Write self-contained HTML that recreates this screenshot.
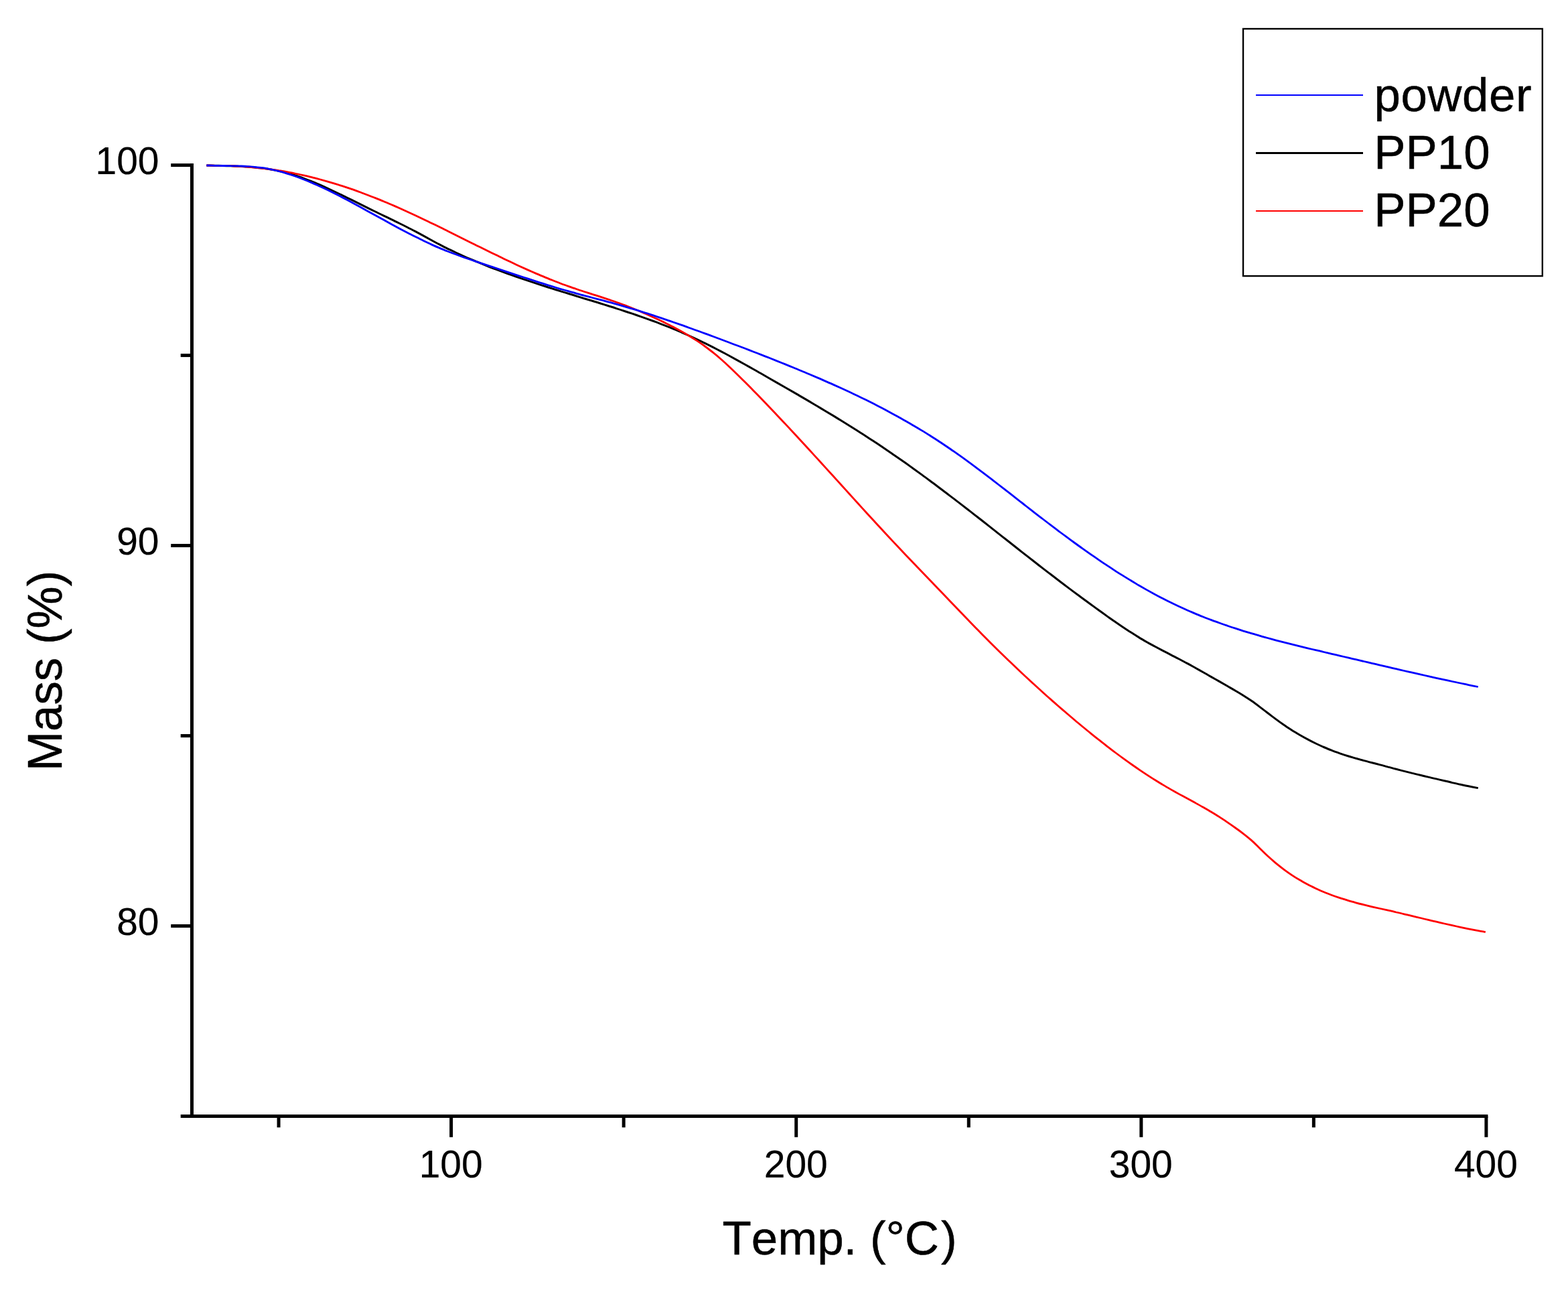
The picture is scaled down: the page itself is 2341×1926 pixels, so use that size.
<!DOCTYPE html>
<html lang="en"><head><meta charset="utf-8"><title>TGA curves</title>
<style>
html,body{margin:0;padding:0;background:#fff;}
body{width:2341px;height:1926px;overflow:hidden;}
svg{display:block;}
text{font-family:"Liberation Sans",sans-serif;fill:#000;font-kerning:none;stroke:#000;stroke-width:0.5px;stroke-linejoin:round;}
.tk{font-size:58.33px;stroke-width:0.2px;}
.tt{font-size:70.83px;}
.lg{font-size:70.83px;}
</style></head><body>
<svg width="2341" height="1926" viewBox="0 0 2341 1926">
<rect x="0" y="0" width="2341" height="1926" fill="#fff"/>

<g fill="none" stroke-width="2.8" stroke-linejoin="round" stroke-linecap="butt">
<path stroke="#000" stroke-width="3.0" d="M308.4 247.0C310.4 247.0 316.4 247.2 320.4 247.2C324.4 247.3 328.4 247.4 332.4 247.5C336.4 247.6 340.4 247.7 344.4 247.8C348.4 247.9 352.4 248.1 356.4 248.3C360.4 248.4 364.4 248.7 368.4 248.9C372.4 249.2 376.4 249.5 380.4 249.9C384.4 250.3 388.4 250.7 392.4 251.2C396.4 251.8 400.4 252.4 404.4 253.0C408.4 253.7 412.4 254.5 416.4 255.4C420.4 256.2 424.4 257.2 428.4 258.3C432.4 259.4 436.4 260.6 440.4 261.8C444.4 263.1 448.4 264.5 452.4 265.9C456.4 267.4 460.4 268.9 464.4 270.5C468.4 272.1 472.4 273.8 476.4 275.5C480.4 277.2 484.4 279.0 488.4 280.8C492.4 282.7 496.4 284.6 500.4 286.5C504.4 288.4 508.4 290.3 512.4 292.3C516.4 294.2 520.4 296.2 524.4 298.2C528.4 300.2 532.4 302.2 536.4 304.2C540.4 306.2 544.4 308.2 548.4 310.2C552.4 312.1 556.4 314.1 560.4 316.0C564.4 318.0 568.4 319.9 572.4 321.8C576.4 323.7 580.4 325.7 584.4 327.6C588.4 329.5 592.4 331.5 596.4 333.5C600.4 335.4 604.4 337.4 608.4 339.5C612.4 341.5 616.4 343.6 620.4 345.7C624.4 347.8 628.4 350.0 632.4 352.1C636.4 354.3 640.4 356.5 644.4 358.7C648.4 360.9 652.4 363.0 656.4 365.1C660.4 367.2 664.4 369.3 668.4 371.3C672.4 373.2 676.4 375.2 680.4 377.0C684.4 378.9 688.4 380.7 692.4 382.5C696.4 384.3 700.4 386.0 704.4 387.7C708.4 389.4 712.4 391.1 716.4 392.7C720.4 394.3 724.4 395.9 728.4 397.5C732.4 399.1 736.4 400.6 740.4 402.1C744.4 403.6 748.4 405.1 752.4 406.6C756.4 408.0 760.4 409.5 764.4 410.9C768.4 412.3 772.4 413.7 776.4 415.1C780.4 416.5 784.4 417.8 788.4 419.2C792.4 420.5 796.4 421.8 800.4 423.1C804.4 424.5 808.4 425.8 812.4 427.0C816.4 428.3 820.4 429.6 824.4 430.9C828.4 432.1 832.4 433.4 836.4 434.6C840.4 435.9 844.4 437.1 848.4 438.3C852.4 439.6 856.4 440.8 860.4 442.0C864.4 443.2 868.4 444.5 872.4 445.7C876.4 446.9 880.4 448.1 884.4 449.3C888.4 450.6 892.4 451.8 896.4 453.0C900.4 454.3 904.4 455.5 908.4 456.8C912.4 458.0 916.4 459.3 920.4 460.6C924.4 461.8 928.4 463.1 932.4 464.5C936.4 465.8 940.4 467.1 944.4 468.4C948.4 469.8 952.4 471.2 956.4 472.6C960.4 474.0 964.4 475.4 968.4 476.8C972.4 478.3 976.4 479.7 980.4 481.2C984.4 482.8 988.4 484.3 992.4 485.9C996.4 487.4 1000.4 489.0 1004.4 490.7C1008.4 492.3 1012.4 494.0 1016.4 495.7C1020.4 497.5 1024.4 499.2 1028.4 501.0C1032.4 502.8 1036.4 504.7 1040.4 506.6C1044.4 508.5 1048.4 510.4 1052.4 512.4C1056.4 514.4 1060.4 516.4 1064.4 518.4C1068.4 520.5 1072.4 522.5 1076.4 524.6C1080.4 526.7 1084.4 528.9 1088.4 531.0C1092.4 533.2 1096.4 535.4 1100.4 537.6C1104.4 539.8 1108.4 542.0 1112.4 544.2C1116.4 546.5 1120.4 548.7 1124.4 551.0C1128.4 553.2 1132.4 555.5 1136.4 557.8C1140.4 560.1 1144.4 562.4 1148.4 564.7C1152.4 567.0 1156.4 569.3 1160.4 571.6C1164.4 573.9 1168.4 576.2 1172.4 578.5C1176.4 580.8 1180.4 583.1 1184.4 585.4C1188.4 587.7 1192.4 590.0 1196.4 592.4C1200.4 594.7 1204.4 597.1 1208.4 599.4C1212.4 601.8 1216.4 604.1 1220.4 606.5C1224.4 608.9 1228.4 611.3 1232.4 613.7C1236.4 616.1 1240.4 618.5 1244.4 620.9C1248.4 623.4 1252.4 625.8 1256.4 628.3C1260.4 630.8 1264.4 633.2 1268.4 635.7C1272.4 638.2 1276.4 640.8 1280.4 643.3C1284.4 645.8 1288.4 648.4 1292.4 651.0C1296.4 653.6 1300.4 656.2 1304.4 658.8C1308.4 661.4 1312.4 664.1 1316.4 666.8C1320.4 669.5 1324.4 672.2 1328.4 674.9C1332.4 677.6 1336.4 680.4 1340.4 683.2C1344.4 686.0 1348.4 688.8 1352.4 691.6C1356.4 694.5 1360.4 697.3 1364.4 700.2C1368.4 703.1 1372.4 706.0 1376.4 708.9C1380.4 711.8 1384.4 714.8 1388.4 717.8C1392.4 720.7 1396.4 723.7 1400.4 726.7C1404.4 729.7 1408.4 732.7 1412.4 735.8C1416.4 738.8 1420.4 741.9 1424.4 744.9C1428.4 748.0 1432.4 751.1 1436.4 754.1C1440.4 757.2 1444.4 760.3 1448.4 763.4C1452.4 766.5 1456.4 769.7 1460.4 772.8C1464.4 775.9 1468.4 779.0 1472.4 782.2C1476.4 785.3 1480.4 788.5 1484.4 791.6C1488.4 794.8 1492.4 797.9 1496.4 801.1C1500.4 804.2 1504.4 807.4 1508.4 810.5C1512.4 813.7 1516.4 816.8 1520.4 820.0C1524.4 823.1 1528.4 826.2 1532.4 829.4C1536.4 832.5 1540.4 835.6 1544.4 838.7C1548.4 841.9 1552.4 845.0 1556.4 848.1C1560.4 851.2 1564.4 854.3 1568.4 857.3C1572.4 860.4 1576.4 863.5 1580.4 866.5C1584.4 869.6 1588.4 872.6 1592.4 875.6C1596.4 878.6 1600.4 881.6 1604.4 884.6C1608.4 887.6 1612.4 890.5 1616.4 893.5C1620.4 896.4 1624.4 899.3 1628.4 902.3C1632.4 905.2 1636.4 908.1 1640.4 911.0C1644.4 913.9 1648.4 916.7 1652.4 919.6C1656.4 922.4 1660.4 925.3 1664.4 928.0C1668.4 930.8 1672.4 933.6 1676.4 936.2C1680.4 938.9 1684.4 941.6 1688.4 944.1C1692.4 946.7 1696.4 949.2 1700.4 951.6C1704.4 954.1 1708.4 956.4 1712.4 958.7C1716.4 961.0 1720.4 963.1 1724.4 965.3C1728.4 967.4 1732.4 969.5 1736.4 971.6C1740.4 973.7 1744.4 975.7 1748.4 977.8C1752.4 979.8 1756.4 981.9 1760.4 984.0C1764.4 986.1 1768.4 988.2 1772.4 990.4C1776.4 992.5 1780.4 994.8 1784.4 997.0C1788.4 999.3 1792.4 1001.5 1796.4 1003.8C1800.4 1006.0 1804.4 1008.3 1808.4 1010.6C1812.4 1012.9 1816.4 1015.1 1820.4 1017.4C1824.4 1019.7 1828.4 1022.0 1832.4 1024.3C1836.4 1026.6 1840.4 1028.8 1844.4 1031.2C1848.4 1033.5 1852.4 1035.9 1856.4 1038.4C1860.4 1040.9 1864.4 1043.5 1868.4 1046.3C1872.4 1049.1 1876.4 1052.1 1880.4 1055.1C1884.4 1058.1 1888.4 1061.2 1892.4 1064.3C1896.4 1067.3 1900.4 1070.4 1904.4 1073.4C1908.4 1076.4 1912.4 1079.3 1916.4 1082.0C1920.4 1084.8 1924.4 1087.4 1928.4 1090.0C1932.4 1092.5 1936.4 1094.9 1940.4 1097.3C1944.4 1099.6 1948.4 1101.8 1952.4 1103.9C1956.4 1106.1 1960.4 1108.1 1964.4 1110.0C1968.4 1111.9 1972.4 1113.8 1976.4 1115.5C1980.4 1117.2 1984.4 1118.9 1988.4 1120.4C1992.4 1122.0 1996.4 1123.4 2000.4 1124.8C2004.4 1126.2 2008.4 1127.5 2012.4 1128.7C2016.4 1130.0 2020.4 1131.1 2024.4 1132.3C2028.4 1133.4 2032.4 1134.5 2036.4 1135.6C2040.4 1136.7 2044.4 1137.7 2048.4 1138.7C2052.4 1139.8 2056.4 1140.8 2060.4 1141.9C2064.4 1142.9 2068.4 1144.0 2072.4 1145.1C2076.4 1146.1 2080.4 1147.2 2084.4 1148.3C2088.4 1149.3 2092.4 1150.4 2096.4 1151.4C2100.4 1152.4 2104.4 1153.4 2108.4 1154.4C2112.4 1155.3 2116.4 1156.3 2120.4 1157.3C2124.4 1158.2 2128.4 1159.2 2132.4 1160.1C2136.4 1161.1 2140.4 1162.0 2144.4 1162.9C2148.4 1163.9 2152.4 1164.8 2156.4 1165.8C2160.4 1166.7 2164.4 1167.6 2168.4 1168.6C2172.4 1169.5 2176.4 1170.4 2180.4 1171.2C2184.4 1172.1 2188.0 1172.9 2192.4 1173.8C2196.8 1174.7 2204.4 1176.1 2206.8 1176.6"/>
<path stroke="#ff0000" stroke-width="2.8" d="M308.4 247.0C310.4 247.0 316.4 247.0 320.4 247.1C324.4 247.1 328.4 247.2 332.4 247.3C336.4 247.4 340.4 247.6 344.4 247.7C348.4 247.9 352.4 248.1 356.4 248.3C360.4 248.6 364.4 248.8 368.4 249.1C372.4 249.4 376.4 249.8 380.4 250.1C384.4 250.5 388.4 250.9 392.4 251.4C396.4 251.9 400.4 252.4 404.4 252.9C408.4 253.4 412.4 254.0 416.4 254.7C420.4 255.3 424.4 256.0 428.4 256.7C432.4 257.4 436.4 258.2 440.4 259.0C444.4 259.8 448.4 260.7 452.4 261.6C456.4 262.5 460.4 263.4 464.4 264.4C468.4 265.4 472.4 266.4 476.4 267.5C480.4 268.6 484.4 269.7 488.4 270.8C492.4 272.0 496.4 273.2 500.4 274.4C504.4 275.6 508.4 276.9 512.4 278.2C516.4 279.5 520.4 280.9 524.4 282.2C528.4 283.6 532.4 285.0 536.4 286.5C540.4 288.0 544.4 289.4 548.4 291.0C552.4 292.5 556.4 294.0 560.4 295.6C564.4 297.2 568.4 298.8 572.4 300.5C576.4 302.1 580.4 303.8 584.4 305.5C588.4 307.3 592.4 309.0 596.4 310.8C600.4 312.6 604.4 314.4 608.4 316.2C612.4 318.0 616.4 319.9 620.4 321.7C624.4 323.6 628.4 325.5 632.4 327.4C636.4 329.3 640.4 331.2 644.4 333.2C648.4 335.1 652.4 337.1 656.4 339.0C660.4 341.0 664.4 343.0 668.4 344.9C672.4 346.9 676.4 348.9 680.4 350.9C684.4 352.9 688.4 354.9 692.4 356.9C696.4 358.9 700.4 360.9 704.4 362.9C708.4 364.9 712.4 366.9 716.4 368.8C720.4 370.8 724.4 372.8 728.4 374.8C732.4 376.7 736.4 378.7 740.4 380.6C744.4 382.6 748.4 384.5 752.4 386.4C756.4 388.3 760.4 390.2 764.4 392.1C768.4 394.0 772.4 395.8 776.4 397.7C780.4 399.5 784.4 401.3 788.4 403.1C792.4 404.9 796.4 406.6 800.4 408.4C804.4 410.1 808.4 411.8 812.4 413.4C816.4 415.1 820.4 416.7 824.4 418.3C828.4 419.9 832.4 421.5 836.4 423.0C840.4 424.5 844.4 426.0 848.4 427.4C852.4 428.8 856.4 430.2 860.4 431.5C864.4 432.9 868.4 434.2 872.4 435.5C876.4 436.8 880.4 438.1 884.4 439.4C888.4 440.6 892.4 441.9 896.4 443.2C900.4 444.5 904.4 445.8 908.4 447.1C912.4 448.5 916.4 449.8 920.4 451.3C924.4 452.7 928.4 454.1 932.4 455.6C936.4 457.1 940.4 458.7 944.4 460.3C948.4 461.9 952.4 463.6 956.4 465.2C960.4 466.9 964.4 468.7 968.4 470.5C972.4 472.3 976.4 474.1 980.4 476.0C984.4 477.8 988.4 479.8 992.4 481.7C996.4 483.7 1000.4 485.7 1004.4 487.8C1008.4 489.9 1012.4 492.0 1016.4 494.2C1020.4 496.5 1024.4 498.8 1028.4 501.2C1032.4 503.6 1036.4 506.1 1040.4 508.7C1044.4 511.4 1048.4 514.1 1052.4 517.0C1056.4 520.0 1060.4 523.0 1064.4 526.2C1068.4 529.4 1072.4 532.8 1076.4 536.3C1080.4 539.8 1084.4 543.4 1088.4 547.2C1092.4 550.9 1096.4 554.8 1100.4 558.7C1104.4 562.6 1108.4 566.6 1112.4 570.6C1116.4 574.6 1120.4 578.6 1124.4 582.7C1128.4 586.8 1132.4 590.9 1136.4 595.0C1140.4 599.2 1144.4 603.3 1148.4 607.5C1152.4 611.7 1156.4 615.9 1160.4 620.2C1164.4 624.4 1168.4 628.6 1172.4 632.9C1176.4 637.2 1180.4 641.5 1184.4 645.8C1188.4 650.1 1192.4 654.4 1196.4 658.7C1200.4 663.1 1204.4 667.4 1208.4 671.8C1212.4 676.2 1216.4 680.5 1220.4 684.9C1224.4 689.3 1228.4 693.7 1232.4 698.1C1236.4 702.5 1240.4 706.9 1244.4 711.3C1248.4 715.7 1252.4 720.1 1256.4 724.5C1260.4 728.9 1264.4 733.4 1268.4 737.8C1272.4 742.2 1276.4 746.6 1280.4 751.0C1284.4 755.4 1288.4 759.8 1292.4 764.2C1296.4 768.6 1300.4 772.9 1304.4 777.3C1308.4 781.7 1312.4 786.0 1316.4 790.3C1320.4 794.7 1324.4 799.0 1328.4 803.3C1332.4 807.5 1336.4 811.8 1340.4 816.0C1344.4 820.3 1348.4 824.5 1352.4 828.7C1356.4 832.9 1360.4 837.1 1364.4 841.3C1368.4 845.5 1372.4 849.6 1376.4 853.8C1380.4 858.0 1384.4 862.1 1388.4 866.3C1392.4 870.4 1396.4 874.6 1400.4 878.8C1404.4 882.9 1408.4 887.1 1412.4 891.3C1416.4 895.5 1420.4 899.7 1424.4 903.8C1428.4 908.0 1432.4 912.2 1436.4 916.3C1440.4 920.5 1444.4 924.6 1448.4 928.7C1452.4 932.9 1456.4 937.0 1460.4 941.1C1464.4 945.1 1468.4 949.2 1472.4 953.2C1476.4 957.3 1480.4 961.3 1484.4 965.2C1488.4 969.2 1492.4 973.1 1496.4 977.0C1500.4 980.9 1504.4 984.8 1508.4 988.6C1512.4 992.5 1516.4 996.3 1520.4 1000.0C1524.4 1003.8 1528.4 1007.6 1532.4 1011.3C1536.4 1015.0 1540.4 1018.7 1544.4 1022.3C1548.4 1026.0 1552.4 1029.6 1556.4 1033.2C1560.4 1036.8 1564.4 1040.4 1568.4 1043.9C1572.4 1047.5 1576.4 1051.0 1580.4 1054.5C1584.4 1057.9 1588.4 1061.4 1592.4 1064.8C1596.4 1068.2 1600.4 1071.6 1604.4 1075.0C1608.4 1078.4 1612.4 1081.7 1616.4 1085.0C1620.4 1088.3 1624.4 1091.6 1628.4 1094.8C1632.4 1098.1 1636.4 1101.3 1640.4 1104.4C1644.4 1107.6 1648.4 1110.7 1652.4 1113.8C1656.4 1116.9 1660.4 1120.0 1664.4 1123.0C1668.4 1126.0 1672.4 1129.0 1676.4 1131.9C1680.4 1134.8 1684.4 1137.7 1688.4 1140.5C1692.4 1143.3 1696.4 1146.1 1700.4 1148.8C1704.4 1151.5 1708.4 1154.2 1712.4 1156.8C1716.4 1159.4 1720.4 1162.0 1724.4 1164.5C1728.4 1167.0 1732.4 1169.5 1736.4 1171.9C1740.4 1174.3 1744.4 1176.6 1748.4 1178.9C1752.4 1181.1 1756.4 1183.4 1760.4 1185.6C1764.4 1187.8 1768.4 1189.9 1772.4 1192.1C1776.4 1194.3 1780.4 1196.4 1784.4 1198.6C1788.4 1200.8 1792.4 1203.0 1796.4 1205.3C1800.4 1207.6 1804.4 1209.9 1808.4 1212.3C1812.4 1214.7 1816.4 1217.1 1820.4 1219.7C1824.4 1222.2 1828.4 1224.9 1832.4 1227.6C1836.4 1230.3 1840.4 1233.1 1844.4 1236.0C1848.4 1238.8 1852.4 1241.7 1856.4 1244.8C1860.4 1247.9 1864.4 1251.1 1868.4 1254.6C1872.4 1258.2 1876.4 1262.3 1880.4 1266.2C1884.4 1270.0 1888.4 1274.1 1892.4 1277.8C1896.4 1281.5 1900.4 1285.0 1904.4 1288.4C1908.4 1291.7 1912.4 1294.8 1916.4 1297.8C1920.4 1300.8 1924.4 1303.6 1928.4 1306.3C1932.4 1309.0 1936.4 1311.5 1940.4 1313.8C1944.4 1316.2 1948.4 1318.4 1952.4 1320.6C1956.4 1322.7 1960.4 1324.6 1964.4 1326.5C1968.4 1328.4 1972.4 1330.1 1976.4 1331.8C1980.4 1333.5 1984.4 1335.0 1988.4 1336.5C1992.4 1338.0 1996.4 1339.4 2000.4 1340.7C2004.4 1342.0 2008.4 1343.2 2012.4 1344.4C2016.4 1345.6 2020.4 1346.7 2024.4 1347.8C2028.4 1348.9 2032.4 1349.9 2036.4 1350.9C2040.4 1351.9 2044.4 1352.8 2048.4 1353.8C2052.4 1354.7 2056.4 1355.6 2060.4 1356.5C2064.4 1357.4 2068.4 1358.3 2072.4 1359.2C2076.4 1360.1 2080.4 1361.0 2084.4 1362.0C2088.4 1362.9 2092.4 1363.8 2096.4 1364.8C2100.4 1365.7 2104.4 1366.7 2108.4 1367.6C2112.4 1368.6 2116.4 1369.5 2120.4 1370.5C2124.4 1371.4 2128.4 1372.4 2132.4 1373.4C2136.4 1374.3 2140.4 1375.3 2144.4 1376.2C2148.4 1377.1 2152.4 1378.1 2156.4 1379.0C2160.4 1379.9 2164.4 1380.8 2168.4 1381.7C2172.4 1382.6 2176.4 1383.4 2180.4 1384.3C2184.4 1385.1 2188.4 1386.0 2192.4 1386.8C2196.4 1387.6 2200.2 1388.3 2204.4 1389.1C2208.6 1389.9 2215.6 1391.1 2217.8 1391.5"/>
<path stroke="#0000ff" stroke-width="2.8" d="M308.4 247.0C310.4 247.0 316.4 247.2 320.4 247.3C324.4 247.4 328.4 247.4 332.4 247.5C336.4 247.5 340.4 247.5 344.4 247.6C348.4 247.6 352.4 247.7 356.4 247.8C360.4 248.0 364.4 248.1 368.4 248.4C372.4 248.6 376.4 248.9 380.4 249.3C384.4 249.7 388.4 250.1 392.4 250.7C396.4 251.3 400.4 252.1 404.4 252.9C408.4 253.7 412.4 254.6 416.4 255.7C420.4 256.7 424.4 257.9 428.4 259.1C432.4 260.3 436.4 261.6 440.4 263.0C444.4 264.4 448.4 265.9 452.4 267.5C456.4 269.1 460.4 270.7 464.4 272.4C468.4 274.1 472.4 275.9 476.4 277.7C480.4 279.5 484.4 281.4 488.4 283.3C492.4 285.3 496.4 287.3 500.4 289.3C504.4 291.3 508.4 293.4 512.4 295.4C516.4 297.5 520.4 299.7 524.4 301.8C528.4 303.9 532.4 306.1 536.4 308.3C540.4 310.5 544.4 312.7 548.4 314.9C552.4 317.1 556.4 319.3 560.4 321.5C564.4 323.7 568.4 325.9 572.4 328.1C576.4 330.3 580.4 332.5 584.4 334.7C588.4 336.9 592.4 339.0 596.4 341.2C600.4 343.3 604.4 345.4 608.4 347.5C612.4 349.6 616.4 351.6 620.4 353.6C624.4 355.6 628.4 357.6 632.4 359.5C636.4 361.4 640.4 363.3 644.4 365.1C648.4 366.9 652.4 368.7 656.4 370.4C660.4 372.1 664.4 373.7 668.4 375.3C672.4 376.9 676.4 378.4 680.4 379.8C684.4 381.3 688.4 382.7 692.4 384.2C696.4 385.6 700.4 386.9 704.4 388.3C708.4 389.6 712.4 391.0 716.4 392.3C720.4 393.6 724.4 395.0 728.4 396.3C732.4 397.6 736.4 398.9 740.4 400.3C744.4 401.6 748.4 403.0 752.4 404.3C756.4 405.6 760.4 407.0 764.4 408.3C768.4 409.6 772.4 411.0 776.4 412.3C780.4 413.6 784.4 414.9 788.4 416.2C792.4 417.5 796.4 418.8 800.4 420.1C804.4 421.4 808.4 422.7 812.4 423.9C816.4 425.2 820.4 426.4 824.4 427.7C828.4 428.9 832.4 430.1 836.4 431.3C840.4 432.4 844.4 433.6 848.4 434.7C852.4 435.9 856.4 437.0 860.4 438.1C864.4 439.2 868.4 440.3 872.4 441.3C876.4 442.4 880.4 443.4 884.4 444.5C888.4 445.6 892.4 446.6 896.4 447.7C900.4 448.7 904.4 449.8 908.4 450.9C912.4 451.9 916.4 453.0 920.4 454.1C924.4 455.3 928.4 456.4 932.4 457.6C936.4 458.7 940.4 459.9 944.4 461.1C948.4 462.3 952.4 463.6 956.4 464.8C960.4 466.1 964.4 467.4 968.4 468.6C972.4 469.9 976.4 471.2 980.4 472.6C984.4 473.9 988.4 475.2 992.4 476.6C996.4 477.9 1000.4 479.3 1004.4 480.7C1008.4 482.1 1012.4 483.5 1016.4 484.9C1020.4 486.3 1024.4 487.7 1028.4 489.2C1032.4 490.6 1036.4 492.0 1040.4 493.5C1044.4 494.9 1048.4 496.4 1052.4 497.9C1056.4 499.3 1060.4 500.8 1064.4 502.3C1068.4 503.8 1072.4 505.2 1076.4 506.7C1080.4 508.2 1084.4 509.7 1088.4 511.2C1092.4 512.7 1096.4 514.2 1100.4 515.8C1104.4 517.3 1108.4 518.8 1112.4 520.3C1116.4 521.9 1120.4 523.4 1124.4 525.0C1128.4 526.5 1132.4 528.1 1136.4 529.6C1140.4 531.2 1144.4 532.8 1148.4 534.3C1152.4 535.9 1156.4 537.5 1160.4 539.1C1164.4 540.7 1168.4 542.3 1172.4 543.9C1176.4 545.5 1180.4 547.2 1184.4 548.8C1188.4 550.4 1192.4 552.1 1196.4 553.8C1200.4 555.4 1204.4 557.1 1208.4 558.8C1212.4 560.5 1216.4 562.2 1220.4 563.9C1224.4 565.6 1228.4 567.3 1232.4 569.1C1236.4 570.8 1240.4 572.6 1244.4 574.4C1248.4 576.2 1252.4 578.0 1256.4 579.8C1260.4 581.6 1264.4 583.5 1268.4 585.3C1272.4 587.2 1276.4 589.1 1280.4 591.0C1284.4 592.9 1288.4 594.9 1292.4 596.8C1296.4 598.8 1300.4 600.8 1304.4 602.8C1308.4 604.9 1312.4 606.9 1316.4 609.0C1320.4 611.1 1324.4 613.2 1328.4 615.4C1332.4 617.5 1336.4 619.7 1340.4 621.9C1344.4 624.1 1348.4 626.4 1352.4 628.7C1356.4 631.0 1360.4 633.3 1364.4 635.7C1368.4 638.0 1372.4 640.4 1376.4 642.9C1380.4 645.3 1384.4 647.8 1388.4 650.3C1392.4 652.8 1396.4 655.4 1400.4 658.0C1404.4 660.6 1408.4 663.3 1412.4 666.0C1416.4 668.7 1420.4 671.4 1424.4 674.2C1428.4 677.0 1432.4 679.9 1436.4 682.7C1440.4 685.6 1444.4 688.5 1448.4 691.4C1452.4 694.4 1456.4 697.3 1460.4 700.3C1464.4 703.3 1468.4 706.4 1472.4 709.4C1476.4 712.4 1480.4 715.5 1484.4 718.6C1488.4 721.7 1492.4 724.8 1496.4 727.9C1500.4 731.0 1504.4 734.1 1508.4 737.2C1512.4 740.3 1516.4 743.5 1520.4 746.6C1524.4 749.7 1528.4 752.8 1532.4 756.0C1536.4 759.1 1540.4 762.2 1544.4 765.3C1548.4 768.4 1552.4 771.5 1556.4 774.5C1560.4 777.6 1564.4 780.7 1568.4 783.7C1572.4 786.8 1576.4 789.8 1580.4 792.8C1584.4 795.8 1588.4 798.7 1592.4 801.7C1596.4 804.6 1600.4 807.6 1604.4 810.5C1608.4 813.4 1612.4 816.3 1616.4 819.1C1620.4 821.9 1624.4 824.8 1628.4 827.6C1632.4 830.3 1636.4 833.1 1640.4 835.8C1644.4 838.6 1648.4 841.3 1652.4 843.9C1656.4 846.6 1660.4 849.2 1664.4 851.8C1668.4 854.4 1672.4 856.9 1676.4 859.4C1680.4 861.9 1684.4 864.4 1688.4 866.8C1692.4 869.3 1696.4 871.6 1700.4 874.0C1704.4 876.3 1708.4 878.6 1712.4 880.9C1716.4 883.1 1720.4 885.3 1724.4 887.5C1728.4 889.6 1732.4 891.7 1736.4 893.8C1740.4 895.9 1744.4 897.9 1748.4 899.8C1752.4 901.8 1756.4 903.7 1760.4 905.5C1764.4 907.4 1768.4 909.2 1772.4 911.0C1776.4 912.7 1780.4 914.4 1784.4 916.1C1788.4 917.8 1792.4 919.4 1796.4 921.0C1800.4 922.6 1804.4 924.1 1808.4 925.6C1812.4 927.1 1816.4 928.6 1820.4 930.0C1824.4 931.5 1828.4 932.9 1832.4 934.2C1836.4 935.6 1840.4 936.9 1844.4 938.2C1848.4 939.5 1852.4 940.8 1856.4 942.1C1860.4 943.3 1864.4 944.5 1868.4 945.7C1872.4 946.9 1876.4 948.1 1880.4 949.2C1884.4 950.3 1888.4 951.5 1892.4 952.5C1896.4 953.6 1900.4 954.7 1904.4 955.8C1908.4 956.8 1912.4 957.9 1916.4 958.9C1920.4 959.9 1924.4 960.9 1928.4 961.9C1932.4 962.9 1936.4 963.9 1940.4 964.9C1944.4 965.9 1948.4 966.8 1952.4 967.8C1956.4 968.8 1960.4 969.7 1964.4 970.7C1968.4 971.6 1972.4 972.5 1976.4 973.5C1980.4 974.4 1984.4 975.4 1988.4 976.3C1992.4 977.2 1996.4 978.2 2000.4 979.1C2004.4 980.0 2008.4 981.0 2012.4 981.9C2016.4 982.9 2020.4 983.8 2024.4 984.7C2028.4 985.7 2032.4 986.6 2036.4 987.5C2040.4 988.5 2044.4 989.4 2048.4 990.4C2052.4 991.3 2056.4 992.2 2060.4 993.2C2064.4 994.1 2068.4 995.0 2072.4 995.9C2076.4 996.9 2080.4 997.8 2084.4 998.7C2088.4 999.6 2092.4 1000.6 2096.4 1001.5C2100.4 1002.4 2104.4 1003.3 2108.4 1004.2C2112.4 1005.1 2116.4 1006.0 2120.4 1006.9C2124.4 1007.8 2128.4 1008.7 2132.4 1009.6C2136.4 1010.5 2140.4 1011.4 2144.4 1012.3C2148.4 1013.2 2152.4 1014.0 2156.4 1014.9C2160.4 1015.8 2164.4 1016.6 2168.4 1017.5C2172.4 1018.4 2176.4 1019.2 2180.4 1020.0C2184.4 1020.9 2188.0 1021.6 2192.4 1022.6C2196.8 1023.5 2204.4 1025.0 2206.8 1025.5"/>
</g>
<g stroke="#000" stroke-width="5" fill="none" stroke-linecap="butt">
<line x1="286.5" y1="244.1" x2="286.5" y2="1669.0"/>
<line x1="284.0" y1="1666.5" x2="2221.4" y2="1666.5"/>
<line x1="255.20" y1="246.60" x2="286.5" y2="246.60"/>
<line x1="269.70" y1="530.58" x2="286.5" y2="530.58"/>
<line x1="255.20" y1="814.56" x2="286.5" y2="814.56"/>
<line x1="269.70" y1="1098.54" x2="286.5" y2="1098.54"/>
<line x1="255.20" y1="1382.52" x2="286.5" y2="1382.52"/>
<line x1="269.70" y1="1666.50" x2="286.5" y2="1666.50"/>
<line x1="416.05" y1="1666.5" x2="416.05" y2="1683.30"/>
<line x1="673.60" y1="1666.5" x2="673.60" y2="1697.80"/>
<line x1="931.15" y1="1666.5" x2="931.15" y2="1683.30"/>
<line x1="1188.70" y1="1666.5" x2="1188.70" y2="1697.80"/>
<line x1="1446.25" y1="1666.5" x2="1446.25" y2="1683.30"/>
<line x1="1703.80" y1="1666.5" x2="1703.80" y2="1697.80"/>
<line x1="1961.35" y1="1666.5" x2="1961.35" y2="1683.30"/>
<line x1="2218.90" y1="1666.5" x2="2218.90" y2="1697.80"/>
</g>
<text class="tk" transform="translate(237.4 260.40) scale(0.975 0.985)" text-anchor="end">100</text>
<text class="tk" transform="translate(237.4 828.36) scale(0.975 0.985)" text-anchor="end">90</text>
<text class="tk" transform="translate(237.4 1396.32) scale(0.975 0.985)" text-anchor="end">80</text>
<text class="tk" transform="translate(673.10 1758.2) scale(0.975 0.985)" text-anchor="middle">100</text>
<text class="tk" transform="translate(1188.20 1758.2) scale(0.975 0.985)" text-anchor="middle">200</text>
<text class="tk" transform="translate(1703.30 1758.2) scale(0.975 0.985)" text-anchor="middle">300</text>
<text class="tk" transform="translate(2218.40 1758.2) scale(0.975 0.985)" text-anchor="middle">400</text>
<text class="tt" x="1078.5" y="1873">Temp. (°C<tspan dx="3">)</tspan></text>
<text class="tt" transform="translate(92.4 1151) rotate(-90) scale(1 1.012)">Mass (%)</text>
<rect x="1856" y="43" width="446.8" height="369.1" fill="#fff" stroke="#000" stroke-width="2.4"/>
<line x1="1875" y1="142" x2="2035" y2="142" stroke="#0000ff" stroke-width="2"/>
<text class="lg" x="2051.4" y="166.3" letter-spacing="0.6">powder</text>
<line x1="1875" y1="228.5" x2="2035" y2="228.5" stroke="#000" stroke-width="3"/>
<text class="lg" x="2051.3" y="251.7">PP10</text>
<line x1="1875" y1="315" x2="2035" y2="315" stroke="#ff0000" stroke-width="2"/>
<text class="lg" x="2051.3" y="337.7">PP20</text>
</svg>
</body></html>
